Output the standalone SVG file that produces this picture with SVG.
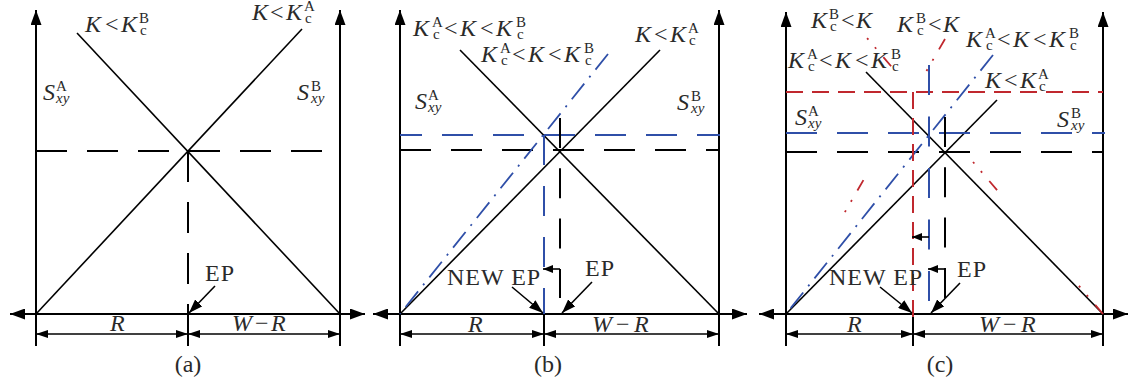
<svg xmlns="http://www.w3.org/2000/svg" width="1130" height="387" viewBox="0 0 1130 387">
<defs>
<marker id="ax" markerUnits="userSpaceOnUse" markerWidth="16" markerHeight="11" refX="15" refY="5.5" orient="auto-start-reverse"><path d="M0,0 L15,5.5 L0,11 z" fill="#000"/></marker>
<marker id="dm" markerUnits="userSpaceOnUse" markerWidth="12" markerHeight="8" refX="12" refY="4" orient="auto-start-reverse"><path d="M0,0 L12,4 L0,8 z" fill="#000"/></marker>
<marker id="pt" markerUnits="userSpaceOnUse" markerWidth="14" markerHeight="10" refX="14" refY="5" orient="auto"><path d="M0,0 L14,5 L0,10 z" fill="#000"/></marker>
<marker id="hk" markerUnits="userSpaceOnUse" markerWidth="10" markerHeight="8" refX="10" refY="4" orient="auto"><path d="M0,0 L10,4 L0,8 z" fill="#000"/></marker>
</defs>
<style>
.ax{stroke:#000;stroke-width:2;fill:none}
.dim{stroke:#000;stroke-width:1.6}
.sl{stroke:#000;stroke-width:1.6}
.kd{stroke:#000;stroke-width:2;stroke-dasharray:31 20}
.kv{stroke:#000;stroke-width:2;stroke-dasharray:30 20.3}
.bd{stroke:#2f4fa8;stroke-width:2;stroke-dasharray:31 20}
.bv{stroke:#2f4fa8;stroke-width:2;stroke-dasharray:30 21}
.bdd{stroke:#2f4fa8;stroke-width:1.8;stroke-dasharray:20 8 2 8}
.rd{stroke:#c0282e;stroke-width:2;stroke-dasharray:17 9}
.rdd{stroke:#c0282e;stroke-width:1.8;stroke-dasharray:12 11 2 10 2 126}
.ar{stroke:#000;stroke-width:1.6}
text{font-family:"Liberation Serif","Times New Roman",serif;font-size:24px;fill:#2a2a2a}
.i{font-style:italic}
.s{font-size:15px}
.w{letter-spacing:1px}
</style>

<!-- Panel (a) -->
<g id="panel-a">
  <g id="a-axes">
    <line class="ax" x1="36" y1="346" x2="36" y2="10" marker-end="url(#ax)"/>
    <line class="ax" x1="340" y1="346" x2="340" y2="10" marker-end="url(#ax)"/>
    <line class="ax" x1="10" y1="314" x2="365" y2="314" marker-start="url(#ax)" marker-end="url(#ax)"/>
    <line class="ax" x1="188" y1="314" x2="188" y2="346"/>
    <line class="dim" x1="36" y1="334" x2="188" y2="334" marker-start="url(#dm)" marker-end="url(#dm)"/>
    <line class="dim" x1="188" y1="334" x2="340" y2="334" marker-start="url(#dm)" marker-end="url(#dm)"/>
  </g>
  <g id="a-connectors">
    <line class="sl" x1="36" y1="314" x2="302" y2="29"/>
    <line class="sl" x1="77" y1="33" x2="340" y2="314"/>
    <line class="kd" x1="36" y1="151" x2="340" y2="151"/>
    <line class="kd" x1="188" y1="151" x2="188" y2="314"/>
    <line class="ar" x1="215" y1="286" x2="189" y2="313" marker-end="url(#pt)"/>
  </g>
  <g id="a-labels">
    <text><tspan class="i" x="85" y="32">K</tspan><tspan x="105" y="32">&lt;</tspan><tspan class="i" x="121" y="32">K</tspan><tspan class="s" x="139" y="23">B</tspan><tspan class="s" x="140" y="35">c</tspan></text>
    <text><tspan class="i" x="252" y="20">K</tspan><tspan x="270" y="20">&lt;</tspan><tspan class="i" x="286" y="20">K</tspan><tspan class="s" x="304" y="11">A</tspan><tspan class="s" x="305" y="23">c</tspan></text>
    <text><tspan class="i" x="43" y="100">S</tspan><tspan class="s" x="56" y="91">A</tspan><tspan class="s i" x="56" y="103">xy</tspan></text>
    <text><tspan class="i" x="297" y="100">S</tspan><tspan class="s" x="311" y="91">B</tspan><tspan class="s i" x="311" y="103">xy</tspan></text>
    <text class="w" x="205" y="281">EP</text>
    <text class="i" x="110" y="331">R</text>
    <text><tspan class="i" x="232" y="331">W</tspan><tspan x="255" y="331">−</tspan><tspan class="i" x="271" y="331">R</tspan></text>
    <text x="188" y="372" text-anchor="middle">(a)</text>
  </g>
</g>

<!-- Panel (b) -->
<g id="panel-b">
  <g id="b-axes">
    <line class="ax" x1="400" y1="346" x2="400" y2="10" marker-end="url(#ax)"/>
    <line class="ax" x1="719" y1="346" x2="719" y2="10" marker-end="url(#ax)"/>
    <line class="ax" x1="373" y1="314" x2="747" y2="314" marker-start="url(#ax)" marker-end="url(#ax)"/>
    <line class="ax" x1="544" y1="314" x2="544" y2="346"/>
    <line class="dim" x1="400" y1="334" x2="544" y2="334" marker-start="url(#dm)" marker-end="url(#dm)"/>
    <line class="dim" x1="544" y1="334" x2="719" y2="334" marker-start="url(#dm)" marker-end="url(#dm)"/>
  </g>
  <g id="b-connectors">
    <line class="sl" x1="400" y1="314" x2="660" y2="50"/>
    <line class="sl" x1="460" y1="50" x2="719" y2="314"/>
    <line class="kd" x1="400" y1="150" x2="719" y2="150"/>
    <line class="bd" x1="400" y1="135" x2="720" y2="135" stroke-dashoffset="9"/>
    <line class="bdd" x1="608" y1="54" x2="400" y2="314"/>
    <line class="bv" x1="544" y1="135" x2="544" y2="314"/>
    <line class="kv" x1="560" y1="118" x2="560" y2="298"/>
    <line class="ar" x1="560" y1="269" x2="543" y2="269" marker-end="url(#hk)"/>
    <line class="ar" x1="512" y1="287" x2="543" y2="313" marker-end="url(#pt)"/>
    <line class="ar" x1="592" y1="282" x2="562" y2="313" marker-end="url(#pt)"/>
  </g>
  <g id="b-labels">
    <text><tspan class="i" x="413" y="36">K</tspan><tspan class="s" x="432" y="27">A</tspan><tspan class="s" x="433" y="39">c</tspan><tspan x="444" y="36">&lt;</tspan><tspan class="i" x="460" y="36">K</tspan><tspan x="480" y="36">&lt;</tspan><tspan class="i" x="496" y="36">K</tspan><tspan class="s" x="516" y="27">B</tspan><tspan class="s" x="517" y="39">c</tspan></text>
    <text><tspan class="i" x="481" y="62">K</tspan><tspan class="s" x="500" y="53">A</tspan><tspan class="s" x="501" y="65">c</tspan><tspan x="512" y="62">&lt;</tspan><tspan class="i" x="528" y="62">K</tspan><tspan x="548" y="62">&lt;</tspan><tspan class="i" x="564" y="62">K</tspan><tspan class="s" x="584" y="53">B</tspan><tspan class="s" x="585" y="65">c</tspan></text>
    <text><tspan class="i" x="635" y="42">K</tspan><tspan x="654" y="42">&lt;</tspan><tspan class="i" x="670" y="42">K</tspan><tspan class="s" x="688" y="33">A</tspan><tspan class="s" x="689" y="45">c</tspan></text>
    <text><tspan class="i" x="415" y="109">S</tspan><tspan class="s" x="428" y="100">A</tspan><tspan class="s i" x="428" y="112">xy</tspan></text>
    <text><tspan class="i" x="677" y="110">S</tspan><tspan class="s" x="691" y="101">B</tspan><tspan class="s i" x="691" y="113">xy</tspan></text>
    <text class="w" x="447" y="285">NEW EP</text>
    <text class="w" x="585" y="276">EP</text>
    <text class="i" x="468" y="332">R</text>
    <text><tspan class="i" x="592" y="332">W</tspan><tspan x="616" y="332">−</tspan><tspan class="i" x="634" y="332">R</tspan></text>
    <text x="548" y="372" text-anchor="middle">(b)</text>
  </g>
</g>

<!-- Panel (c) -->
<g id="panel-c">
  <g id="c-axes">
    <line class="ax" x1="786" y1="346" x2="786" y2="12" marker-end="url(#ax)"/>
    <line class="ax" x1="1103" y1="346" x2="1103" y2="12" marker-end="url(#ax)"/>
    <line class="ax" x1="759" y1="314" x2="1128" y2="314" marker-start="url(#ax)" marker-end="url(#ax)"/>
    <line class="ax" x1="913" y1="314" x2="913" y2="346"/>
    <line class="dim" x1="786" y1="334" x2="913" y2="334" marker-start="url(#dm)" marker-end="url(#dm)"/>
    <line class="dim" x1="913" y1="334" x2="1103" y2="334" marker-start="url(#dm)" marker-end="url(#dm)"/>
  </g>
  <g id="c-connectors">
    <line class="sl" x1="786" y1="314" x2="997" y2="100"/>
    <line class="sl" x1="866" y1="72" x2="1103" y2="314"/>
    <line class="kd" x1="786" y1="152" x2="1103" y2="152"/>
    <line class="bd" x1="786" y1="133" x2="1105" y2="133"/>
    <line class="rd" x1="786" y1="92" x2="1103" y2="92"/>
    <line class="rdd" x1="1103" y1="314" x2="867" y2="38"/>
    <line class="rdd" x1="945" y1="39" x2="786" y2="314"/>
    <line class="bdd" x1="993" y1="55" x2="786" y2="314"/>
    <line class="rd" x1="913" y1="92" x2="913" y2="317"/>
    <line class="bv" x1="929" y1="65" x2="929" y2="302" style="stroke-dasharray:30 21.5"/>
    <line class="kv" x1="945" y1="117" x2="945" y2="298"/>
    <line class="ar" x1="945" y1="269" x2="928" y2="269" marker-end="url(#hk)"/>
    <line class="ar" x1="929" y1="237" x2="912" y2="237" marker-end="url(#hk)"/>
    <line class="ar" x1="880" y1="287" x2="912" y2="313" marker-end="url(#pt)"/>
    <line class="ar" x1="960" y1="283" x2="931" y2="313" marker-end="url(#pt)"/>
  </g>
  <g id="c-labels">
    <text><tspan class="i" x="811" y="28">K</tspan><tspan class="s" x="829" y="19">B</tspan><tspan class="s" x="830" y="31">c</tspan><tspan x="841" y="28">&lt;</tspan><tspan class="i" x="856" y="28">K</tspan></text>
    <text><tspan class="i" x="897" y="32">K</tspan><tspan class="s" x="916" y="23">B</tspan><tspan class="s" x="917" y="35">c</tspan><tspan x="928" y="32">&lt;</tspan><tspan class="i" x="943" y="32">K</tspan></text>
    <text><tspan class="i" x="966" y="47">K</tspan><tspan class="s" x="985" y="38">A</tspan><tspan class="s" x="986" y="50">c</tspan><tspan x="997" y="47">&lt;</tspan><tspan class="i" x="1013" y="47">K</tspan><tspan x="1033" y="47">&lt;</tspan><tspan class="i" x="1049" y="47">K</tspan><tspan class="s" x="1069" y="38">B</tspan><tspan class="s" x="1070" y="50">c</tspan></text>
    <text><tspan class="i" x="788" y="68">K</tspan><tspan class="s" x="807" y="59">A</tspan><tspan class="s" x="808" y="71">c</tspan><tspan x="819" y="68">&lt;</tspan><tspan class="i" x="835" y="68">K</tspan><tspan x="855" y="68">&lt;</tspan><tspan class="i" x="871" y="68">K</tspan><tspan class="s" x="891" y="59">B</tspan><tspan class="s" x="892" y="71">c</tspan></text>
    <text><tspan class="i" x="985" y="88">K</tspan><tspan x="1004" y="88">&lt;</tspan><tspan class="i" x="1020" y="88">K</tspan><tspan class="s" x="1038" y="79">A</tspan><tspan class="s" x="1039" y="91">c</tspan></text>
    <text><tspan class="i" x="795" y="125">S</tspan><tspan class="s" x="808" y="116">A</tspan><tspan class="s i" x="808" y="128">xy</tspan></text>
    <text><tspan class="i" x="1057" y="127">S</tspan><tspan class="s" x="1071" y="118">B</tspan><tspan class="s i" x="1071" y="130">xy</tspan></text>
    <text class="w" x="829" y="285">NEW EP</text>
    <text class="w" x="957" y="277">EP</text>
    <text class="i" x="847" y="332">R</text>
    <text><tspan class="i" x="979" y="332">W</tspan><tspan x="1003" y="332">−</tspan><tspan class="i" x="1021" y="332">R</tspan></text>
    <text x="940" y="372" text-anchor="middle">(c)</text>
  </g>
</g>
</svg>
